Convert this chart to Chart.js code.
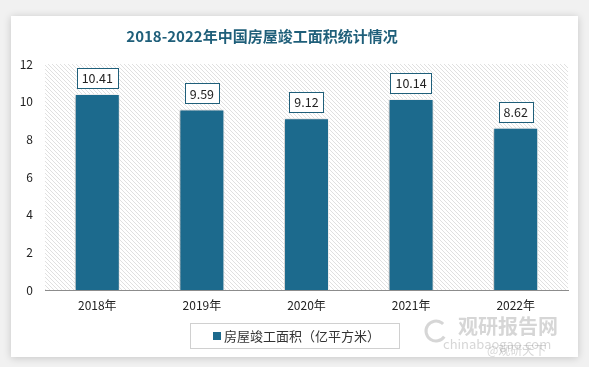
<!DOCTYPE html>
<html><head><meta charset="utf-8">
<script src="https://cdn.jsdelivr.net/npm/chart.js@4/dist/chart.umd.min.js"></script>
<style>html,body{margin:0;padding:0;background:#f1f1f1;}#wrap{width:589px;height:367px;position:relative;}</style>
</head><body><div id="wrap"><canvas id="c" width="589" height="367"></canvas></div>
<script>
const categories = ["2018年","2019年","2020年","2021年","2022年"];
const values = [10.41, 9.59, 9.12, 10.14, 8.62];
const seriesName = "房屋竣工面积（亿平方米）";
const titleText = "2018-2022年中国房屋竣工面积统计情况";
const yTicks = [0,2,4,6,8,10,12];

const BAR = "#1c6a8d";
const TEAL = "#1f5f7a";
const FONT = "'Noto Sans CJK SC','Noto Sans',sans-serif";

function hatch(ctx){
  const p = document.createElement('canvas'); p.width = 4; p.height = 4;
  const g = p.getContext('2d');
  g.fillStyle = '#ffffff'; g.fillRect(0,0,4,4);
  g.strokeStyle = '#e0e0e0'; g.lineWidth = 1;
  g.beginPath(); g.moveTo(0,0); g.lineTo(4,4); g.moveTo(-1,3); g.lineTo(1,5); g.moveTo(3,-1); g.lineTo(5,1); g.stroke();
  return ctx.createPattern(p,'repeat');
}

const bgPlugin = {
  id:'bg',
  beforeDraw(chart){
    const ctx = chart.ctx, a = chart.chartArea;
    ctx.save();
    ctx.fillStyle = '#f1f1f1'; ctx.fillRect(0,0,chart.width,chart.height);
    ctx.shadowColor = 'rgba(0,0,0,0.18)'; ctx.shadowBlur = 8; ctx.shadowOffsetX = 0; ctx.shadowOffsetY = 1;
    ctx.fillStyle = '#ffffff'; ctx.fillRect(11,16,567,341);
    ctx.restore();
    ctx.save();
    ctx.fillStyle = hatch(ctx);
    ctx.fillRect(a.left, a.top, a.right-a.left, a.bottom-a.top);
    ctx.restore();
    // title
    ctx.save();
    ctx.fillStyle = TEAL; ctx.font = "bold 15px " + FONT;
    ctx.textAlign = 'center'; ctx.textBaseline = 'middle';
    ctx.fillText(titleText, 262, 36);
    ctx.restore();
  },
  beforeDatasetsDraw(chart){
    const ctx = chart.ctx; ctx.save();
    ctx.shadowColor = 'rgba(0,0,0,0.3)'; ctx.shadowBlur = 4; ctx.shadowOffsetX = -1; ctx.shadowOffsetY = 1;
  },
  afterDatasetsDraw(chart){
    const ctx = chart.ctx; ctx.restore();
    // data labels
    const meta = chart.getDatasetMeta(0);
    ctx.save();
    ctx.font = "12.5px " + FONT; ctx.textAlign='center'; ctx.textBaseline='middle';
    meta.data.forEach((bar,i)=>{
      const t = values[i].toFixed(2);
      const w = ctx.measureText(t).width + 10, h = 20;
      const x = bar.x - w/2, y = bar.y - 6 - h;
      ctx.fillStyle = '#fff'; ctx.fillRect(x,y,w,h);
      ctx.strokeStyle = TEAL; ctx.lineWidth = 1; ctx.strokeRect(Math.round(x)+0.5, Math.round(y)+0.5, Math.round(w), h);
      ctx.fillStyle = '#222'; ctx.fillText(t, bar.x, y + h/2 + 0.5);
    });
    ctx.restore();
    // legend
    ctx.save();
    ctx.strokeStyle = '#d0d0d0'; ctx.lineWidth = 1;
    ctx.fillStyle = '#fff';
    ctx.fillRect(190,323,210,25); ctx.strokeRect(190.5,323.5,209,25);
    ctx.fillStyle = BAR; ctx.fillRect(213,332,8,8);
    ctx.fillStyle = '#333'; ctx.font = "13px " + FONT; ctx.textAlign='left'; ctx.textBaseline='middle';
    ctx.fillText(seriesName, 224, 336);
    ctx.restore();
    // watermark
    ctx.save();
    ctx.globalAlpha = 0.35;
    ctx.fillStyle = '#8a8a8a'; ctx.font = "bold 20px " + FONT; ctx.textAlign='left'; ctx.textBaseline='middle';
    ctx.fillText("观研报告网", 458, 326);
    ctx.font = "13px " + FONT; ctx.fillText("chinabaogao.com", 443, 344);
    ctx.font = "12px " + FONT; ctx.fillText("@观研天下", 487, 350);
    ctx.strokeStyle = '#8a8a8a'; ctx.lineWidth = 3;
    ctx.beginPath(); ctx.arc(436, 331, 10, 0.6, 5.5); ctx.stroke();
    ctx.restore();
  }
};

new Chart(document.getElementById('c'), {
  type:'bar',
  data:{ labels: categories, datasets:[{ label: seriesName, data: values, backgroundColor: BAR, borderColor:'#ffffff', borderWidth:1, categoryPercentage:1, barPercentage:0.43 }]},
  options:{
    responsive:false, animation:false, devicePixelRatio:1,
    layout:{ padding:{ top:64, right:21, bottom:47, left:0 } },
    plugins:{ legend:{display:false}, title:{display:false}, tooltip:{enabled:false} },
    scales:{
      x:{ grid:{ display:false, drawTicks:false }, border:{ display:true, color:'#8c8c8c', width:1 },
          ticks:{ color:'#222', font:{ size:12, family:FONT }, padding:8 },
          afterFit(s){ s.height = 30; } },
      y:{ min:0, max:12, grid:{ display:false, drawTicks:false }, border:{ display:false },
          afterBuildTicks(s){ s.ticks = yTicks.map(v=>({value:v})); },
          ticks:{ color:'#222', font:{ size:12, family:FONT }, padding:12 },
          afterFit(s){ s.width = 45; } }
    }
  },
  plugins:[bgPlugin]
});
</script></body></html>
